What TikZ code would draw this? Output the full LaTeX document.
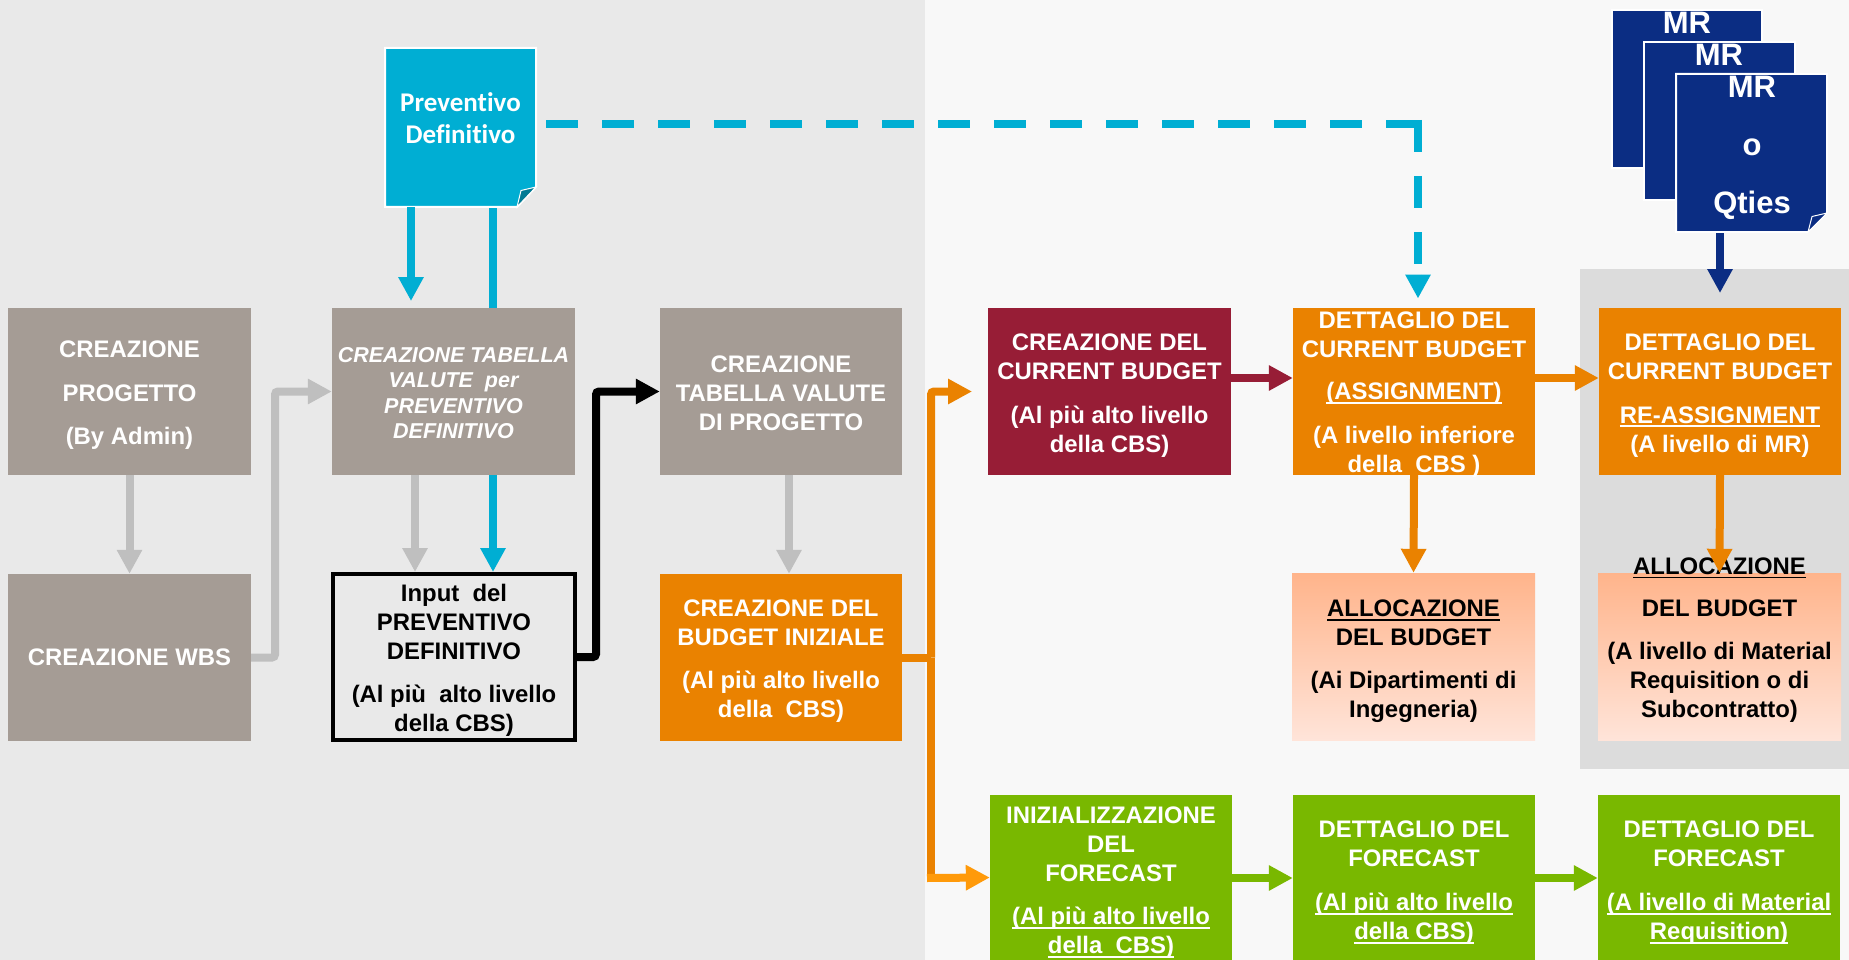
\documentclass[tikz,border=0pt]{standalone}
\usepackage{fontspec}
\setmainfont{Liberation Sans}
\newfontfamily\calibri[Ligatures=NoCommon]{Carlito}
\usetikzlibrary{arrows.meta,calc}
\definecolor{bgleft}{HTML}{E9E9E9}
\definecolor{bgright}{HTML}{F8F8F8}
\definecolor{panelgrey}{HTML}{DCDCDC}
\definecolor{taupe}{HTML}{A59C95}
\definecolor{orangeb}{HTML}{EA8200}
\definecolor{orangel}{HTML}{FF9A0A}
\definecolor{redb}{HTML}{971D36}
\definecolor{greenb}{HTML}{79B800}
\definecolor{cyanb}{HTML}{00AED3}
\definecolor{navyb}{HTML}{0B2D83}
\definecolor{greyarrow}{HTML}{BFBFBF}
\definecolor{peachtop}{HTML}{FFB48B}
\definecolor{peachbot}{HTML}{FFE4D9}
\newcommand{\ulx}[1]{\leavevmode\setbox0=\hbox{#1}\rlap{\rule[-4pt]{\wd0}{1.8pt}}\box0}
\newcommand{\tp}[1]{\rule{0pt}{#1pt}}
\tikzset{
  boxbase/.style={rectangle,inner sep=0pt,minimum width=242pt,minimum height=167pt,align=center,
    font=\fontsize{23.9}{29}\selectfont\bfseries},
  wbox/.style={boxbase,text=white},
  greybox/.style={wbox,fill=taupe},
  orangebox/.style={wbox,fill=orangeb},
  redbox/.style={wbox,fill=redb},
  greenbox/.style={wbox,fill=greenb,minimum height=165pt},
  peachbox/.style={boxbase,minimum width=243pt,text=black,top color=peachtop,bottom color=peachbot},
  conn/.style={line width=8pt,-{Triangle[length=24pt,width=24pt]}},
  plainconn/.style={line width=8pt},
  dashconn/.style={line width=8pt,dash pattern=on 32pt off 24pt},
  docshape/.style={line width=2pt,draw=white,line join=miter},
  doctext/.style={inner sep=0pt,align=center,text=white,font=\fontsize{31}{58}\selectfont\bfseries}
}
\begin{document}
\begin{tikzpicture}[x=1pt,y=-1pt]
\useasboundingbox (0,0) rectangle (1849,960);
\fill[bgright] (0,0) rectangle (1849,960);
\fill[bgleft] (0,0) rectangle (925,960);
\fill[panelgrey] (1580,269) rectangle (1849,769);

% line of the cyan connector running behind the box
\node[inner sep=0pt,minimum width=151pt,minimum height=159pt] (doc) at (460.5,127.5) {};
\draw[plainconn,cyanb] (doc.south -| 493,0) -- (493,320);

% boxes
\node[greybox,minimum width=243pt] (b1) at (129.5,391.5) {\tp{24}CREAZIONE\\[14.5pt]PROGETTO\\[14.5pt](By Admin)};
\node[greybox,minimum width=243pt] (wbs) at (129.5,657.5) {CREAZIONE WBS};
\node[greybox,minimum width=243pt,font=\fontsize{21.5}{25.5}\selectfont\bfseries\itshape] (b2) at (453.5,391.5) {\tp{18.5}CREAZIONE TABELLA\\VALUTE\ \ per\\PREVENTIVO\\DEFINITIVO};
\node[boxbase,draw=black,line width=4pt,minimum width=242pt,minimum height=166pt] (input) at (454,657) {\tp{24}Input\ \ del\\PREVENTIVO\\DEFINITIVO\\[14pt](Al più\ \ alto livello\\della CBS)};
\node[greybox] (b3) at (781,391.5) {\tp{21}CREAZIONE\\TABELLA VALUTE\\DI PROGETTO};
\node[orangebox] (oini) at (781,657.5) {\tp{24}CREAZIONE DEL\\BUDGET INIZIALE\\[14pt](Al più alto livello\\della\ \ CBS)};
\node[redbox,minimum width=243pt] (red) at (1109.5,391.5) {\tp{24}CREAZIONE DEL\\CURRENT BUDGET\\[15pt](Al più alto livello\\della CBS)};
\node[orangebox] (det1) at (1414,391.5) {};
\node[boxbase,text=white,minimum height=0pt] (det1t) at (1414,395) {DETTAGLIO DEL\\CURRENT BUDGET\\[13pt]\ulx{(ASSIGNMENT)}\\[15pt](A livello inferiore\\della\ \ CBS )};
\node[orangebox] (det2) at (1720,391.5) {\tp{24}DETTAGLIO DEL\\CURRENT BUDGET\\[15pt]\ulx{RE-ASSIGNMENT}\\(A livello di MR)};
\node[peachbox] (al1) at (1413.5,656.5) {\tp{27}\ulx{ALLOCAZIONE}\\DEL BUDGET\\[14pt](Ai Dipartimenti di\\Ingegneria)};
\node[peachbox] (al2) at (1719.5,656.5) {};
\node[boxbase,text=black,minimum height=0pt] (al2t) at (1719.5,640) {\ulx{ALLOCAZIONE}\\[13pt]DEL BUDGET\\[14pt](A livello di Material\\Requisition o di\\Subcontratto)};
\node[greenbox] (g1) at (1111,877.5) {\tp{27}INIZIALIZZAZIONE\\DEL\\FORECAST\\[14pt]\ulx{(Al più alto livello}\\\ulx{della\ \ CBS)}};
\node[greenbox] (g2) at (1414,877.5) {\tp{27}DETTAGLIO DEL\\FORECAST\\[15pt]\ulx{(Al più alto livello}\\\ulx{della CBS)}};
\node[greenbox] (g3) at (1719,877.5) {\tp{27}DETTAGLIO DEL\\FORECAST\\[15pt]\ulx{(A livello di Material}\\\ulx{Requisition)}};

% Preventivo document
\draw[docshape,fill=cyanb] (385,48) -- (536,48) -- (536,187) -- (517,207) -- (385,207) -- cycle;
\draw[white,line width=1pt,fill=cyanb!70!black] (536,187) -- (521,190.5) -- (517,207) -- cycle;
\node[inner sep=0pt,align=center,text=white,font=\fontsize{27}{32}\selectfont\calibri\bfseries] (doct) at (460.5,118.5) {Preventivo\\Definitivo};

% MR documents
\draw[docshape,fill=navyb] (1612,10) rectangle (1762,168);
\node[doctext] (mr1) at (1687,23) {MR};
\draw[docshape,fill=navyb] (1644,42) rectangle (1795,200);
\node[doctext] (mr2) at (1719,55) {MR};
\draw[docshape,fill=navyb] (1676,74) -- (1827,74) -- (1827,213) -- (1808,232) -- (1676,232) -- cycle;
\draw[white,line width=1pt,fill=navyb] (1827,213) -- (1812,216.5) -- (1808,232) -- cycle;
\node[doctext] (mr3) at (1752,147.5) {MR\\o\\Qties};

% connectors
\draw[conn,greyarrow] (b1.south) -- (wbs.north);
\draw[conn,greyarrow,rounded corners=3pt] (wbs.east) -- (275,657.5) -- (275,391.5) -- (b2.west);
\draw[conn,greyarrow] (b2.south -| 415,0) -- (input.north -| 415,0);
\draw[conn,cyanb] (b2.south -| 493,0) -- (input.north -| 493,0);
\draw[conn,cyanb] (doc.south -| 411,0) -- (411,301);
\draw[conn,black,rounded corners=3pt] (input.east) -- (596,657) -- (596,391.5) -- (b3.west);
\draw[conn,greyarrow] (b3.south -| 789,0) -- (oini.north -| 789,0);
\coordinate (split) at (931,657.5);
\draw[plainconn,orangeb] (oini.east) -- (split);
\draw[conn,orangeb,rounded corners=3pt] (split) -- (931,391.5) -- (972,391.5);
\draw[plainconn,orangeb] (split) -- (931,874);
\draw[conn,orangel] (927,878) -- (g1.west);
\draw[conn,redb] (red.east |- 0,378) -- (det1.west |- 0,378);
\draw[conn,orangeb] (det1.east |- 0,378) -- (det2.west |- 0,378);
\draw[conn,orangeb] (det1.south) -- (al1.north);
\draw[conn,orangeb] (det2.south) -- (al2.north);
\draw[conn,greenb] (g1.east |- 0,878) -- (g2.west |- 0,878);
\draw[conn,greenb] (g2.east |- 0,878) -- (g3.west |- 0,878);
\draw[conn,navyb] (det2.north |- 0,233) -- (det2.north |- 0,293);
\coordinate (dashcorner) at (1418,124);
\draw[dashconn,cyanb] (546,124) -- (dashcorner);
\draw[dashconn,cyanb] (dashcorner) ++(0,-4) -- (1418,268);
\draw[conn,cyanb] (1418,274.5) -- (1418,298.5);
\end{tikzpicture}
\end{document}
